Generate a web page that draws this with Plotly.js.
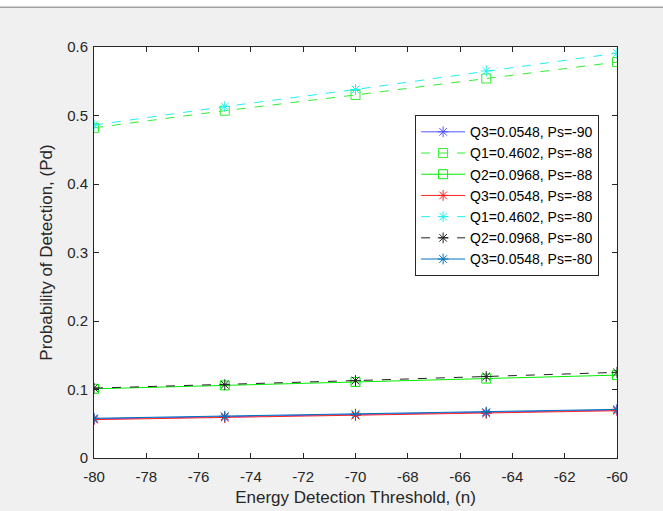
<!DOCTYPE html>
<html>
<head>
<meta charset="utf-8">
<script src="https://cdn.plot.ly/plotly-3.0.1.min.js"></script>
<style>
html,body{margin:0;padding:0;background:#f0f0f0;}
#chart{width:663px;height:511px;}
</style>
</head>
<body>
<div id="chart"></div>
<script>
const thresholds = [-80, -75, -70, -65, -60];
const q3_ps90 = [0.057, 0.060, 0.063, 0.066, 0.070];
const q1_ps88 = [0.482, 0.507, 0.530, 0.554, 0.578];
const q2_ps88 = [0.101, 0.106, 0.111, 0.116, 0.121];
const q3_ps88 = [0.056, 0.059, 0.062, 0.065, 0.069];
const q1_ps80 = [0.486, 0.513, 0.538, 0.565, 0.591];
const q2_ps80 = [0.102, 0.107, 0.113, 0.119, 0.125];
const q3_ps80 = [0.058, 0.061, 0.064, 0.067, 0.071];
const names = [
  'Q3=0.0548, Ps=-90', 'Q1=0.4602, Ps=-88', 'Q2=0.0968, Ps=-88',
  'Q3=0.0548, Ps=-88', 'Q1=0.4602, Ps=-80', 'Q2=0.0968, Ps=-80',
  'Q3=0.0548, Ps=-80'
];
const xTicks = [-80, -78, -76, -74, -72, -70, -68, -66, -64, -62, -60];
const yTicks = [0, 0.1, 0.2, 0.3, 0.4, 0.5, 0.6];

function tr(y, name, color, dash, symbol, size) {
  return {
    x: thresholds, y: y, name: name, type: 'scatter', mode: 'lines+markers',
    line: {color: color, width: 1, dash: dash},
    marker: {symbol: symbol, size: size, color: color, line: {color: color, width: 1}}
  };
}
const data = [
  tr(q3_ps90, names[0], '#5555ff', 'solid', 'asterisk-open', 9),
  tr(q1_ps88, names[1], '#33ee33', 'dash', 'square-open', 9),
  tr(q2_ps88, names[2], '#00ee00', 'solid', 'square-open', 9),
  tr(q3_ps88, names[3], '#ff2222', 'solid', 'asterisk-open', 9),
  tr(q1_ps80, names[4], '#22f0f0', 'dash', 'asterisk-open', 9),
  tr(q2_ps80, names[5], '#222222', 'dash', 'asterisk-open', 9),
  tr(q3_ps80, names[6], '#0072bd', 'solid', 'asterisk-open', 9)
];
const FONT = 'Liberation Sans, Arial, sans-serif';
const axisCommon = {
  showline: true, mirror: 'ticks', linecolor: '#262626', linewidth: 1,
  ticks: 'inside', ticklen: 5, tickcolor: '#262626', showgrid: false, zeroline: false,
  tickfont: {family: FONT, size: 15, color: '#262626'}
};
const layout = {
  width: 663, height: 511,
  paper_bgcolor: '#f0f0f0', plot_bgcolor: '#ffffff',
  margin: {l: 94, r: 46, t: 47, b: 53},
  showlegend: true,
  legend: {
    x: 0.614, y: 0.834, xanchor: 'left', yanchor: 'top',
    bgcolor: '#ffffff', bordercolor: '#262626', borderwidth: 1,
    font: {family: FONT, size: 14, color: '#000000'},
    itemwidth: 44, tracegroupgap: 0
  },
  xaxis: Object.assign({}, axisCommon, {
    range: [-80, -60], tickvals: xTicks, ticktext: xTicks.map(String),
    ticklabelstandoff: 5,
    title: {text: 'Energy Detection Threshold, (n)', standoff: 7,
      font: {family: FONT, size: 17, color: '#262626'}}
  }),
  yaxis: Object.assign({}, axisCommon, {
    range: [0, 0.6], tickvals: yTicks, ticktext: yTicks.map(String),
    ticklabelstandoff: 2,
    title: {text: 'Probability of Detection, (Pd)', standoff: 10,
      font: {family: FONT, size: 17, color: '#262626'}}
  }),
  shapes: [
    {type: 'rect', xref: 'paper', yref: 'paper', x0: -0.3, x1: 1.2, y0: 1.097, y1: 1.2,
     fillcolor: '#ffffff', line: {width: 0}, layer: 'below'},
    {type: 'line', xref: 'paper', yref: 'paper', x0: -0.3, x1: 1.2, y0: 1.097, y1: 1.097,
     line: {color: '#a0a0a0', width: 1.5}}
  ]
};
Plotly.newPlot('chart', data, layout, {displayModeBar: false, staticPlot: true});
</script>
</body>
</html>
